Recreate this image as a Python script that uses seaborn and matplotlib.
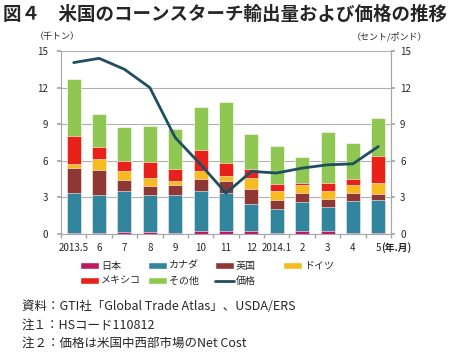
import numpy as np
import pandas as pd
import matplotlib
matplotlib.use("Agg")
import matplotlib.pyplot as plt
import seaborn as sns
from matplotlib.patches import Patch
from matplotlib.lines import Line2D

months = ["2013.5", "6", "7", "8", "9", "10", "11", "12", "2014.1", "2", "3", "4", "5"]
japan   = [0.10, 0.08, 0.20, 0.20, 0.08, 0.25, 0.22, 0.22, 0.10, 0.27, 0.25, 0.10, 0.08]
canada  = [3.25, 3.15, 3.30, 3.00, 3.10, 3.30, 3.10, 2.25, 1.95, 2.38, 1.95, 2.57, 2.70]
uk      = [2.05, 2.05, 0.90, 0.70, 0.80, 0.95, 1.05, 1.25, 0.75, 0.68, 0.70, 0.73, 0.50]
germany = [0.35, 0.90, 0.80, 0.70, 0.35, 0.70, 0.40, 0.90, 0.75, 0.65, 0.62, 0.60, 0.90]
mexico  = [2.30, 0.95, 0.75, 1.30, 1.00, 1.65, 1.05, 0.70, 0.55, 0.17, 0.70, 0.47, 2.18]
other   = [4.65, 2.70, 2.80, 2.95, 3.30, 3.60, 5.00, 2.85, 3.10, 2.20, 4.10, 3.03, 3.15]
price   = [14.05, 14.4, 13.5, 12.0, 7.9, 5.7, 3.35, 5.13, 5.0, 5.4, 5.67, 5.75, 7.17]

series_names = ["日本", "カナダ", "英国", "ドイツ", "メキシコ", "その他"]
series_vals = [japan, canada, uk, germany, mexico, other]
colors = ["#BE1A63", "#31859C", "#8E3735", "#F5BB1F", "#E8221B", "#8FC752"]
line_color = "#1F4E5F"

sns.set_theme(style="white")
plt.rcParams["font.family"] = ["Noto Sans CJK JP", "DejaVu Sans"]

cum = np.zeros(len(months))
cums = []
for v in series_vals:
    cum = cum + np.array(v)
    cums.append(cum.copy())

fig = plt.figure(figsize=(4.5, 3.52), dpi=100)
ax = fig.add_axes([61/450, 1-234/352, 330/450, 183/352])

for name, c, col in reversed(list(zip(series_names, cums, colors))):
    sns.barplot(x=months, y=c, color=col, ax=ax, width=0.55, saturation=1,
                edgecolor="white", linewidth=0.4, zorder=3)

ax.set_ylim(0, 15)
ax.set_xlim(-0.5, len(months) - 0.5)
ax.set_yticks([0, 3, 6, 9, 12, 15])
ax.yaxis.grid(True, color="#B0B0B0", linewidth=0.8, zorder=0)
ax.set_axisbelow(True)
ax.spines["top"].set_visible(False)
for s in ["left", "bottom", "right"]:
    ax.spines[s].set_color("#A6A6A6")
    ax.spines[s].set_linewidth(0.8)
ax.tick_params(axis="y", labelsize=7, length=3, color="#A6A6A6", left=True, pad=6.5)
ax.set_xticks(range(len(months)))
ax.set_xticklabels(months, fontsize=7)
ax.tick_params(axis="x", length=0, pad=6.5)
ax.set_xticks(np.arange(-0.5, len(months), 1), minor=True)
ax.tick_params(axis="x", which="minor", length=3, color="#A6A6A6", bottom=True)
ax.set_xlabel("")
ax.set_ylabel("")

ax2 = ax.twinx()
sns.lineplot(x=np.arange(len(months)), y=price, ax=ax2, color=line_color, linewidth=2, zorder=5)
ax2.set_ylim(0, 15)
ax2.set_yticks([0, 3, 6, 9, 12, 15])
ax2.tick_params(axis="y", labelsize=7, length=3, color="#A6A6A6", right=True, pad=3.5)
for s in ["top", "left", "bottom"]:
    ax2.spines[s].set_visible(False)
ax2.spines["right"].set_color("#A6A6A6")
ax2.spines["right"].set_linewidth(0.8)
ax2.set_ylabel("")

# labels
fig.text(3/450, 1-14/352, "図４　米国のコーンスターチ輸出量および価格の推移",
         fontsize=13.3, fontweight="bold", va="center", ha="left")
fig.text(35/450, 1-37/352, "（千トン）", fontsize=6.5, va="center", ha="left")
fig.text(352/450, 1-37/352, "（セント/ポンド）", fontsize=6.5, va="center", ha="left")
fig.canvas.draw()
lbl = ax.get_xticklabels()[-1]
bb = lbl.get_window_extent()
fig.text(bb.x1 / fig.bbox.width, (bb.y0 + bb.y1) / 2 / fig.bbox.height, "(年.月)",
         fontsize=7, fontweight="bold", ha="left", va="center")

handles = [Patch(facecolor=c, label=n) for n, c in zip(series_names, colors)]
handles.append(Line2D([0], [0], color=line_color, lw=2, label="価格"))
columns = [[0, 4], [1, 5], [2, 6], [3]]
col_x = [80, 148, 215, 283]
for idxs, xpx in zip(columns, col_x):
    fig.legend([handles[i] for i in idxs], [handles[i].get_label() for i in idxs],
               loc="upper left", bbox_to_anchor=(xpx/450, 1-261/352),
               frameon=False, fontsize=7.2, handlelength=1.85, handleheight=0.6,
               handletextpad=0.25, labelspacing=0.5, borderaxespad=0, borderpad=0)

fig.text(22/450, 1-307/352, "資料：GTI社「Global Trade Atlas」、USDA/ERS", fontsize=9, va="center", ha="left")
fig.text(22/450, 1-325/352, "注１：HSコード110812", fontsize=9, va="center", ha="left")
fig.text(22/450, 1-343/352, "注２：価格は米国中西部市場のNet Cost", fontsize=9, va="center", ha="left")

fig.savefig("out.png", dpi=100)
